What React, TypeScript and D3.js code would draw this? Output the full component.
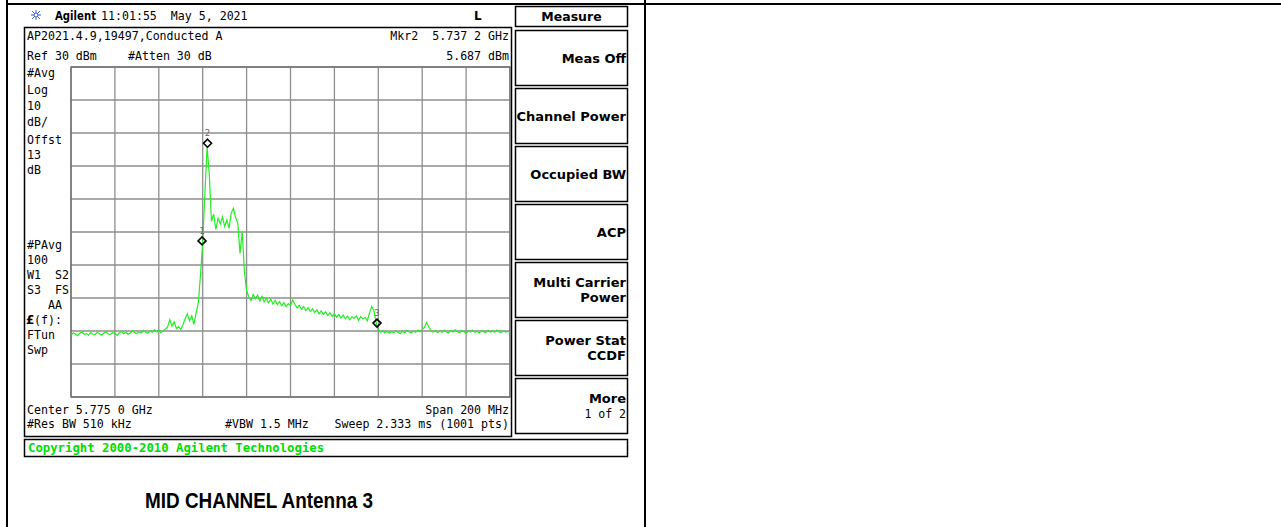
import React from "react";
import * as d3 from "d3";

// ---- data ----
const startFreqGHz = 5.675;
const stopFreqGHz = 5.875;
const refLevelDbm = 30;
const bottomLevelDbm = -70;
const freqTicks = [5.675, 5.695, 5.715, 5.735, 5.755, 5.775, 5.795, 5.815, 5.835, 5.855, 5.875];
const levelTicks = [30, 20, 10, 0, -10, -20, -30, -40, -50, -60, -70];

// trace, 201 points, equally spaced over the span (dBm)
const traceDbm = [
  -51.2, -50.6, -50.9, -51.4, -50.7, -50.3, -51.0, -50.8, -51.3, -50.5,
  -50.9, -51.1, -50.4, -50.8, -51.2, -50.6, -50.2, -50.9, -51.0, -50.5,
  -50.7, -51.3, -50.6, -50.1, -50.8, -50.4, -51.0, -50.6, -49.9, -50.5,
  -50.8, -50.2, -50.6, -49.8, -50.3, -50.7, -50.0, -50.4, -49.6, -50.2,
  -49.8, -50.5, -49.9, -49.4, -48.8, -46.6, -48.5, -47.2, -49.3, -48.7,
  -49.5, -48.1, -46.3, -44.8, -46.9, -45.4, -48.0, -44.6, -41.5, -33.0,
  -23.0, -8.5, 5.69, -2.5, -16.8, -14.6, -19.2, -15.8, -17.6, -15.4,
  -18.3, -16.4, -18.9, -14.2, -12.8, -15.6, -17.4, -26.5, -19.8, -32.0,
  -37.8, -39.6, -40.8, -38.9, -40.2, -39.1, -40.9, -39.5, -41.2, -40.0,
  -41.5, -40.3, -41.8, -40.7, -42.0, -41.1, -42.4, -41.4, -42.6, -41.7,
  -42.3, -40.6, -41.9, -43.0, -42.2, -43.4, -42.6, -43.8, -43.0, -44.1,
  -43.3, -44.4, -43.6, -44.8, -43.9, -45.0, -44.2, -45.3, -44.5, -45.6,
  -44.8, -45.8, -45.0, -46.1, -45.2, -46.3, -45.5, -46.6, -45.7, -46.2,
  -45.4, -46.8, -45.6, -46.3, -45.9, -46.9, -44.5, -42.6, -43.8, -47.5,
  -49.6, -50.4, -50.0, -50.6, -50.1, -50.7, -50.2, -50.5, -49.9, -50.4,
  -50.8, -50.1, -50.5, -49.8, -50.3, -50.6, -50.0, -50.4, -49.7, -50.2,
  -49.6, -48.9, -47.4, -48.8, -49.9, -50.3, -49.8, -50.5, -50.0, -50.4,
  -49.7, -50.2, -50.6, -49.9, -50.3, -49.6, -50.1, -50.5, -49.8, -50.2,
  -50.6, -50.0, -50.3, -49.7, -50.4, -50.1, -50.6, -49.9, -50.2, -50.5,
  -49.8, -50.3, -50.0, -50.4, -49.7, -50.2, -50.5, -49.9, -50.3, -50.1,
  -50.4,
];

const markerIds = ["1", "2", "3"];
const markerFreqGHz = [5.7347, 5.7372, 5.8144];
const markerDbm = [-22.7, 6.9, -47.6];

const leftAnnotations = ["#Avg", "Log", "10", "dB/", "Offst", "13", "dB"];
const leftAnnotations2 = ["#PAvg", "100", "W1  S2", "S3  FS", "   AA", "(f):", "FTun", "Swp"];

const softKeys = [
  ["Meas Off"],
  ["Channel Power"],
  ["Occupied BW"],
  ["ACP"],
  ["Multi Carrier", "Power"],
  ["Power Stat", "CCDF"],
  ["More", "1 of 2"],
];

const MONO = "'DejaVu Sans Mono', 'Liberation Mono', monospace";
const BOLD = "'DejaVu Sans', 'Liberation Sans', sans-serif";

export default function App() {
  const gx0 = 71, gx1 = 510, gy0 = 67, gy1 = 397;
  const x = d3.scaleLinear().domain([startFreqGHz, stopFreqGHz]).range([gx0, gx1]);
  const y = d3.scaleLinear().domain([bottomLevelDbm, refLevelDbm]).range([gy1, gy0]);
  const idx = d3.scaleLinear().domain([0, traceDbm.length - 1]).range([startFreqGHz, stopFreqGHz]);
  const line = d3
    .line<number>()
    .x((_, i) => x(idx(i)))
    .y((d) => y(d));

  const vline = 645;
  const monoSize = 11.6;

  return (
    <svg
      width={1281}
      height={527}
      style={{ position: "absolute", left: 0, top: 0, display: "block", background: "#fff" }}
    >
      {/* table borders */}
      <line x1={7} y1={0} x2={7} y2={527} stroke="#000" strokeWidth={2} />
      <line x1={6} y1={4} x2={1281} y2={4} stroke="#000" strokeWidth={2} />
      <line x1={vline} y1={0} x2={vline} y2={527} stroke="#000" strokeWidth={2} />

      {/* header row */}
      <g transform="translate(36,15)" stroke="#3c5ad8" strokeWidth={1}>
        <line x1={-5} y1={0} x2={5} y2={0} />
        <line x1={0} y1={-5} x2={0} y2={5} />
        <line x1={-4} y1={-4} x2={4} y2={4} />
        <line x1={-4} y1={4} x2={4} y2={-4} />
        <circle r={2} fill="#fff" />
      </g>
      <text x={55} y={19.5} fontFamily={BOLD} fontWeight="bold" fontSize={11.5} textLength={41} lengthAdjust="spacingAndGlyphs">Agilent</text>
      <text x={101} y={19.5} fontFamily={MONO} fontSize={monoSize} xmlSpace="preserve">11:01:55  May 5, 2021</text>
      <text x={474} y={20} fontFamily={BOLD} fontWeight="bold" fontSize={12}>L</text>

      {/* screen frame */}
      <rect x={24.5} y={27.5} width={487} height={409} fill="none" stroke="#000" strokeWidth={1.5} />
      <text x={27} y={40} fontFamily={MONO} fontSize={monoSize}>AP2021.4.9,19497,Conducted A</text>
      <text x={509} y={40} textAnchor="end" fontFamily={MONO} fontSize={monoSize} xmlSpace="preserve">Mkr2  5.737 2 GHz</text>
      <text x={27} y={60} fontFamily={MONO} fontSize={monoSize}>Ref 30 dBm</text>
      <text x={128} y={60} fontFamily={MONO} fontSize={monoSize}>#Atten 30 dB</text>
      <text x={509} y={60} textAnchor="end" fontFamily={MONO} fontSize={monoSize}>5.687 dBm</text>

      {leftAnnotations.map((t, i) => (
        <text key={t + i} x={27} y={[77, 94, 110, 126, 144, 159, 174][i]} fontFamily={MONO} fontSize={monoSize} xmlSpace="preserve">
          {t}
        </text>
      ))}
      {leftAnnotations2.map((t, i) => (
        <text key={t + i} x={i === 5 ? 34 : 27} y={249 + i * 15} fontFamily={MONO} fontSize={monoSize} xmlSpace="preserve">
          {t}
        </text>
      ))}
      <text x={26} y={324} fontFamily={BOLD} fontWeight="bold" fontSize={12}>£</text>

      {/* grid */}
      <g stroke="#8e8e8e" strokeWidth={1.3}>
        {freqTicks.map((f) => (
          <line key={"v" + f} x1={x(f)} y1={gy0} x2={x(f)} y2={gy1} />
        ))}
        {levelTicks.map((l) => (
          <line key={"h" + l} x1={gx0} y1={y(l)} x2={gx1} y2={y(l)} />
        ))}
      </g>
      <rect x={gx0} y={gy0} width={gx1 - gx0} height={gy1 - gy0} fill="none" stroke="#6a6a6a" strokeWidth={1.3} />

      {/* trace */}
      <path d={line(traceDbm) || ""} fill="none" stroke="#22ee22" strokeWidth={1.2} />

      {/* markers */}
      {markerIds.map((id, i) => {
        const mx = x(markerFreqGHz[i]);
        const my = y(markerDbm[i]);
        return (
          <g key={id}>
            <path
              d={`M${mx},${my - 4}L${mx + 4},${my}L${mx},${my + 4}L${mx - 4},${my}Z`}
              fill="none"
              stroke="#000"
              strokeWidth={1.6}
            />
            <text x={mx} y={my - 7} textAnchor="middle" fontFamily={MONO} fontSize={9} fill="#666">
              {id}
            </text>
          </g>
        );
      })}

      {/* bottom annotations */}
      <text x={27} y={414} fontFamily={MONO} fontSize={monoSize}>Center 5.775 0 GHz</text>
      <text x={509} y={414} textAnchor="end" fontFamily={MONO} fontSize={monoSize}>Span 200 MHz</text>
      <text x={27} y={428} fontFamily={MONO} fontSize={monoSize}>#Res BW 510 kHz</text>
      <text x={225} y={428} fontFamily={MONO} fontSize={monoSize}>#VBW 1.5 MHz</text>
      <text x={509} y={428} textAnchor="end" fontFamily={MONO} fontSize={monoSize}>Sweep 2.333 ms (1001 pts)</text>

      {/* copyright box */}
      <rect x={24.5} y={439.5} width={603} height={17} fill="#fff" stroke="#000" strokeWidth={1.5} />
      <text x={28} y={452} fontFamily={MONO} fontWeight="bold" fontSize={12.3} fill="#00dd00">
        Copyright 2000-2010 Agilent Technologies
      </text>

      {/* soft keys */}
      <rect x={515.5} y={6.5} width={112} height={20} fill="#fff" stroke="#000" strokeWidth={1.5} />
      <text x={571.5} y={21} textAnchor="middle" fontFamily={BOLD} fontWeight="bold" fontSize={12.5}>Measure</text>
      {softKeys.map((lines, i) => {
        const top = 30 + i * 58;
        const h = 55;
        const n = lines.length;
        const small = i === 6 && j1(lines);
        return (
          <g key={i}>
            <rect x={515.5} y={top + 0.5} width={112} height={h} fill="#fff" stroke="#000" strokeWidth={1.5} />
            {lines.map((t, j) => (
              <text
                key={t}
                x={626}
                y={top + h / 2 + 5 + (j - (n - 1) / 2) * 15}
                textAnchor="end"
                fontFamily={small && j === 1 ? MONO : BOLD}
                fontWeight={small && j === 1 ? "normal" : "bold"}
                fontSize={small && j === 1 ? 11.5 : 13}
                xmlSpace="preserve"
              >
                {t}
              </text>
            ))}
          </g>
        );
      })}

      {/* caption */}
      <text
        x={145}
        y={508}
        fontFamily="'Liberation Sans', Arial, sans-serif"
        fontWeight="bold"
        fontSize={22}
        textLength={228}
        lengthAdjust="spacingAndGlyphs"
      >
        MID CHANNEL Antenna 3
      </text>
    </svg>
  );
}

function j1(lines: string[]) {
  return lines.length > 1;
}
